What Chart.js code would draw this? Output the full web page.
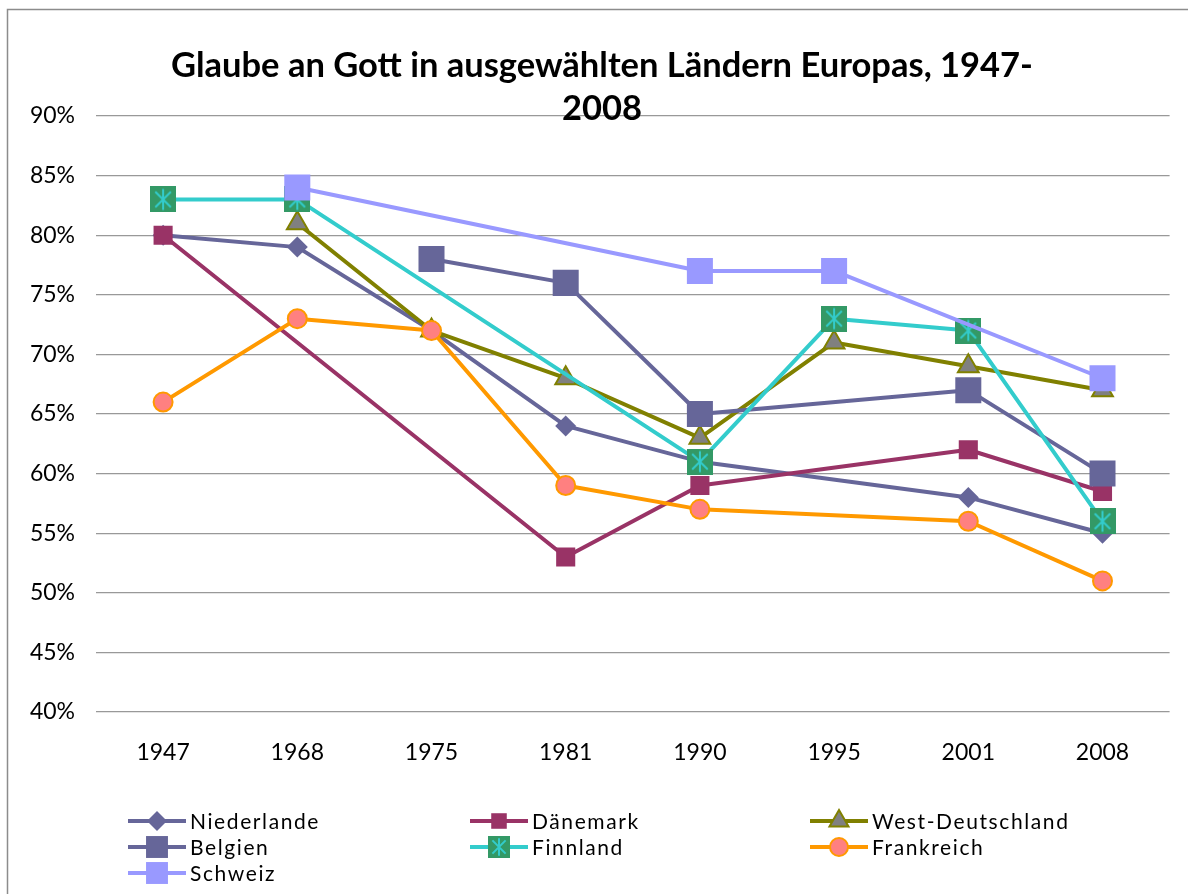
<!DOCTYPE html>
<html>
<head>
<meta charset="utf-8">
<script src="https://cdn.jsdelivr.net/npm/chart.js@4/dist/chart.umd.min.js"></script>
<style>
  html, body { margin: 0; padding: 0; background: #fff; }
  #wrap { width: 1188px; height: 894px; position: relative; }
</style>
</head>
<body>
<div id="wrap"><canvas id="lineChart" width="1188" height="894"></canvas></div>
<script>
var years = ['1947', '1968', '1975', '1981', '1990', '1995', '2001', '2008'];

var niederlande     = [80, 79, 72, 64, 61, null, 58, 55];
var daenemark       = [80, null, null, 53, 59, null, 62, 58.5];
var westDeutschland = [null, 81, 72, 68, 63, 71, 69, 67];
var belgien         = [null, null, 78, 76, 65, null, 67, 60];
var finnland        = [83, 83, null, null, 61, 73, 72, 56];
var frankreich      = [66, 73, 72, 59, 57, null, 56, 51];
var schweiz         = [null, 84, null, null, 77, 77, null, 68];

var titleLines = ['Glaube an Gott in ausgewählten Ländern Europas, 1947-', '2008'];

// green square with cyan star, like the excel marker
function finnMarker(size) {
  var c = document.createElement('canvas');
  c.width = size; c.height = size;
  var g = c.getContext('2d');
  g.fillStyle = '#339966';
  g.fillRect(0, 0, size, size);
  g.strokeStyle = '#33cccc';
  g.lineWidth = 2;
  var i = size * 0.2, m = size / 2;
  g.beginPath();
  g.moveTo(i, i); g.lineTo(size - i, size - i);
  g.moveTo(size - i, i); g.lineTo(i, size - i);
  g.moveTo(m, size * 0.1); g.lineTo(m, size * 0.9);
  g.stroke();
  return c;
}
var finnBig = finnMarker(26);
var finnSmall = finnMarker(22);

var series = [
  { label: 'Niederlande', data: niederlande, color: '#666699', fill: '#666699', style: 'rectRot', r: 10.5, lr: 10, bw: 0 },
  { label: 'Dänemark', data: daenemark, color: '#993366', fill: '#993366', style: 'rect', r: 13.5, lr: 11, bw: 0 },
  { label: 'West-Deutschland', data: westDeutschland, color: '#808000', fill: '#808080', style: 'triangle', r: 12, lr: 11, bw: 2 },
  { label: 'Belgien', data: belgien, color: '#666699', fill: '#666699', style: 'rect', r: 18.4, lr: 15.5, bw: 0 },
  { label: 'Finnland', data: finnland, color: '#33cccc', fill: '#339966', style: finnBig, legendStyle: finnSmall, r: 13, lr: 11, bw: 0 },
  { label: 'Frankreich', data: frankreich, color: '#ff9900', fill: '#ff8080', style: 'circle', r: 9.5, lr: 9, bw: 2 },
  { label: 'Schweiz', data: schweiz, color: '#9999ff', fill: '#9999ff', style: 'rect', r: 18.4, lr: 15.5, bw: 0 }
];

var datasets = series.map(function (s, i) {
  return {
    label: s.label,
    data: s.data,
    borderColor: s.color,
    backgroundColor: s.fill,
    borderWidth: 4,
    borderJoinStyle: 'round',
    borderCapStyle: 'round',
    pointStyle: s.style,
    pointRadius: s.r,
    pointHoverRadius: s.r,
    pointBackgroundColor: s.fill,
    pointBorderColor: s.color,
    pointBorderWidth: s.bw,
    spanGaps: true,
    tension: 0,
    order: series.length - i
  };
});

var legendCols = [128, 470, 810];
var legendRows = [821, 847, 873];

var excelDeko = {
  id: 'excelDeko',
  afterDraw: function (chart) {
    var ctx = chart.ctx;
    ctx.save();
    // outer frame
    ctx.strokeStyle = '#8c8c8c';
    ctx.lineWidth = 1.5;
    ctx.strokeRect(7.5, 9.5, 1200, 900);

    // title
    ctx.fillStyle = '#000';
    ctx.font = 'bold 34.5px Lato';
    ctx.textAlign = 'center';
    ctx.textBaseline = 'middle';
    ctx.fillText(titleLines[0], 602, 66);
    ctx.fillText(titleLines[1], 602, 109);

    // legend grid
    ctx.font = '21px Lato';
    ctx.textAlign = 'left';
    if ('letterSpacing' in ctx) ctx.letterSpacing = '1.6px';
    series.forEach(function (s, i) {
      var x = legendCols[i % 3];
      var y = legendRows[Math.floor(i / 3)];
      ctx.strokeStyle = s.color;
      ctx.lineWidth = 4;
      ctx.beginPath();
      ctx.moveTo(x, y); ctx.lineTo(x + 58, y);
      ctx.stroke();
      ctx.fillStyle = s.fill;
      ctx.strokeStyle = s.color;
      ctx.lineWidth = s.bw;
      Chart.helpers.drawPoint(ctx, {
        pointStyle: s.legendStyle || s.style,
        radius: s.lr,
        rotation: 0,
        borderWidth: s.bw
      }, x + 29, y);
      ctx.fillStyle = '#000';
      ctx.fillText(s.label, x + 62, y + 1);
    });
    ctx.restore();
  }
};

var chart = new Chart('lineChart', {
  type: 'line',
  data: { labels: years, datasets: datasets },
  options: {
    responsive: false,
    animation: false,
    events: [],
    layout: { padding: { top: 116, right: 16, bottom: 122, left: 0 } },
    plugins: {
      legend: { display: false },
      title: { display: false },
      tooltip: { enabled: false }
    },
    scales: {
      x: {
        offset: true,
        grid: { display: false, drawTicks: false },
        border: { display: false },
        ticks: { color: '#000', font: { family: 'Lato', size: 23 }, padding: 27 },
        afterFit: function (scale) { scale.height = 60; }
      },
      y: {
        min: 40,
        max: 90,
        grid: { color: '#999999', lineWidth: 1.3, drawTicks: false },
        border: { display: false },
        ticks: {
          stepSize: 5,
          color: '#000',
          font: { family: 'Lato', size: 23 },
          padding: 21,
          callback: function (v) { return v + '%'; }
        },
        afterFit: function (scale) { scale.width = 96; }
      }
    }
  },
  plugins: [excelDeko]
});
</script>
</body>
</html>
